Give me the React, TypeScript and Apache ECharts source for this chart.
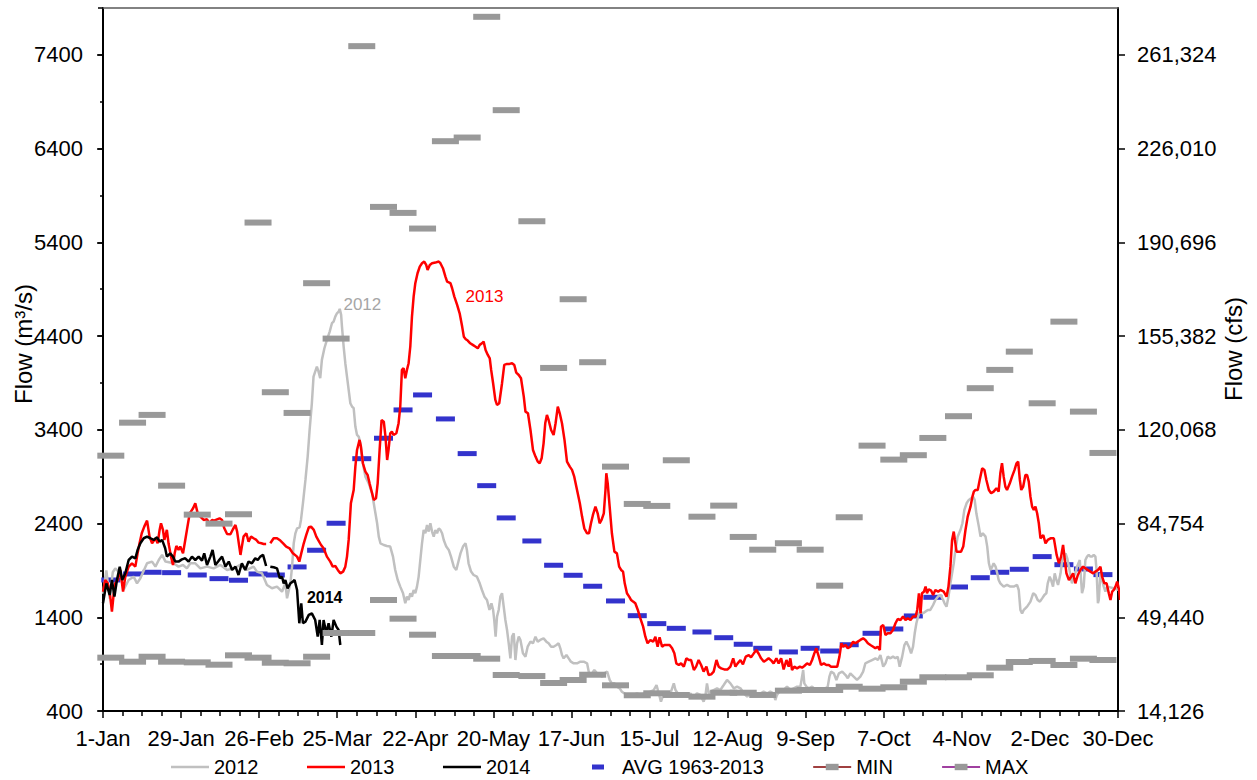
import React, { useEffect, useRef } from "react";
import * as echarts from "echarts";

const FONT = "'Liberation Sans', Arial, sans-serif";

// ---- axis tick labels ----
const X_TICK_LABELS = ["1-Jan", "29-Jan", "26-Feb", "25-Mar", "22-Apr", "20-May", "17-Jun", "15-Jul", "12-Aug", "9-Sep", "7-Oct", "4-Nov", "2-Dec", "30-Dec"];
const Y_TICKS = [400, 1400, 2400, 3400, 4400, 5400, 6400, 7400];
const RIGHT_TICK_LABELS = ["14,126", "49,440", "84,754", "120,068", "155,382", "190,696", "226,010", "261,324"];

// ---- quarter-month periods (positions of the historical statistics) ----
const MONTH_START_DAY = [0, 31, 59, 90, 120, 151, 181, 212, 243, 273, 304, 334];
const QUARTER_OFFSET_DAY = [2.8, 10.6, 17.6, 24.6];

// ---- historical statistics, m3/s (48 quarter-month values) ----
const AVG_1963_2013 = [1798, 1862, 1880, 1876, 1851, 1812, 1795, 1862, 1851, 1937, 2115, 2403, 3092, 3310, 3612, 3772, 3516, 3146, 2804, 2460, 2214, 1955, 1848, 1731, 1574, 1417, 1332, 1282, 1243, 1182, 1112, 1069, 1030, 1069, 1040, 1107, 1229, 1275, 1414, 1613, 1723, 1822, 1880, 1912, 2047, 1961, 1915, 1855];
const MIN_1963_2013 = [969, 926, 979, 926, 919, 894, 994, 969, 915, 909, 979, 1232, 1232, 1584, 1385, 1214, 987, 987, 958, 784, 773, 699, 731, 787, 674, 568, 589, 571, 553, 595, 595, 571, 617, 624, 624, 659, 638, 653, 713, 760, 760, 781, 862, 923, 934, 891, 958, 944];
const MAX_1963_2013 = [3124, 3476, 3559, 2804, 2495, 2399, 2499, 5611, 3801, 3580, 4964, 4373, 7493, 5778, 5714, 5547, 6479, 6518, 7806, 6810, 5625, 4060, 4793, 4121, 3007, 2609, 2588, 3075, 2473, 2591, 2257, 2121, 2190, 2121, 1737, 2467, 3231, 3082, 3129, 3313, 3545, 3844, 4039, 4234, 3683, 4554, 3594, 3153];

// ---- daily flows [day of year, m3/s] ----
const FLOW_2012 = [
  [0, 1650], [1.2, 1900], [2.4, 1600], [3.5, 1880], [4.4, 1922], [6.2, 1869], [7.5, 1700], [9.2, 1798], [11, 1833], [12.2, 1762], [13.4, 1816], [15.8, 1976], [17.6, 1994], [18.8, 1940], [20, 2011], [21.2, 2065], [22.4, 1994], [25.3, 1976], [27.1, 1940], [28.7, 1958], [30.1, 1922], [31.3, 1976], [33.1, 1976], [34.9, 1922], [37.3, 1940], [39.7, 1922], [42.1, 1958], [44.5, 1905], [46.9, 1922], [49.2, 1958], [51.6, 1905], [54, 1940], [55.2, 1887], [57, 1869], [58.8, 1745], [60.6, 1709], [62.4, 1727], [64.2, 1673], [65.4, 1762], [66, 1602], [67.2, 1762], [67.8, 1940], [68.4, 2189], [69, 2296], [69.6, 2349], [70.5, 2360], [71, 2438], [71.7, 2616], [72.6, 2865], [73.4, 3114], [74.1, 3399], [74.9, 3683], [75.5, 3968], [76.1, 4021], [76.7, 4074], [77.3, 4021], [77.9, 3950], [78.5, 4146], [79.4, 4270], [80.3, 4359], [81.3, 4448], [82.1, 4537], [82.7, 4555], [83.3, 4608], [83.9, 4643], [84.5, 4661], [84.9, 4690], [85.4, 4626], [85.7, 4501], [86.3, 4288], [86.9, 4110], [87.5, 3968], [88.1, 3825], [88.7, 3683], [89.3, 3648], [89.9, 3630], [90.5, 3434], [91.1, 3345], [91.7, 3327], [92.3, 3256], [93.2, 3043], [94.1, 2901], [95.3, 2829], [96.5, 2723], [97.1, 2616], [97.7, 2509], [98.3, 2403], [98.9, 2260], [99.5, 2189], [100.7, 2171], [101.8, 2161], [103, 2154], [104, 2047], [104.8, 1905], [105.7, 1798], [106.6, 1727], [107.6, 1656], [108.4, 1549], [109, 1620], [109.6, 1584], [110.2, 1656], [110.8, 1620], [111.4, 1691], [112, 1656], [112.6, 1727], [113.2, 1834], [113.8, 2011], [114.4, 2189], [115, 2331], [115.6, 2296], [116.2, 2385], [116.8, 2314], [117.4, 2403], [118, 2314], [118.6, 2260], [119.2, 2331], [119.8, 2296], [120.4, 2349], [121, 2331], [121.6, 2296], [122.2, 2225], [123.1, 2154], [124, 2118], [124.8, 2047], [125.8, 1940], [126.7, 1905], [127.6, 2011], [128.2, 2082], [129.1, 2154], [130, 2189], [130.5, 2118], [131.1, 1976], [132, 1887], [132.9, 1851], [134.1, 1833], [135.1, 1762], [135.9, 1691], [136.8, 1620], [137.7, 1584], [138.6, 1478], [139.3, 1549], [139.9, 1478], [140.3, 1371], [140.8, 1193], [141.3, 1407], [141.9, 1478], [142.5, 1620], [143.1, 1656], [143.7, 1513], [144.3, 1371], [144.9, 1264], [145.5, 1122], [146.1, 962], [146.7, 1193], [147.3, 1229], [147.9, 944], [148.5, 1122], [149.1, 1193], [149.7, 1158], [150.6, 1015], [151.5, 980], [152.3, 1086], [153.3, 1140], [154.2, 1122], [155.1, 1193], [155.9, 1140], [156.8, 1158], [158, 1175], [159, 1140], [159.8, 1122], [160.7, 1086], [161.6, 1086], [162.6, 1104], [163.4, 1122], [164, 1069], [164.6, 998], [165.2, 962], [166.2, 998], [167, 962], [167.8, 926], [168.8, 909], [170, 909], [171.2, 926], [172.4, 926], [173.6, 909], [174.2, 820], [174.8, 784], [175.4, 802], [176.2, 837], [177.2, 802], [178.1, 784], [179, 766], [179.8, 802], [180.8, 820], [181.7, 731], [182.5, 695], [183.4, 695], [184.3, 660], [185.3, 642], [186.1, 606], [186.9, 589], [187.9, 571], [189.1, 571], [190.3, 571], [191.5, 589], [192.7, 571],
  [194.5, 589], [196.3, 606], [197.5, 624], [198.5, 677], [199.3, 589], [200.1, 499], [201.1, 589], [202.3, 571], [203.5, 589], [204.7, 695], [205.3, 624], [206.1, 589], [207.1, 571], [208.3, 571], [209.5, 553], [210.7, 589], [211.8, 535], [213, 589], [214.2, 571], [215.4, 499], [216, 553], [216.6, 695], [217.2, 589], [217.8, 606], [219, 624], [220.2, 642], [221.4, 624], [222.6, 677], [223.8, 731], [225, 695], [226.2, 642], [227.4, 660], [228.6, 642], [229.8, 589], [231, 553], [232.2, 589], [233.4, 571], [234.6, 589], [235.8, 589], [236.9, 606], [238.2, 589], [239.3, 606], [240.5, 589], [241.1, 517], [241.7, 571], [242.9, 624], [244.1, 624], [245.3, 660], [246.5, 624], [247.7, 642], [248.9, 660], [250.1, 660], [251.1, 837], [251.5, 695], [252.3, 660], [253.1, 642], [254.3, 660], [255.5, 624], [256.7, 624], [257.9, 624], [259.1, 642], [259.9, 660], [260.5, 766], [261.1, 820], [262.1, 802], [263, 731], [263.9, 802], [265.1, 820], [266.3, 784], [267.1, 749], [268, 802], [269.2, 766], [270.4, 731], [271.6, 766], [272.6, 820], [273.4, 908], [274.6, 926], [275.8, 944], [277, 962], [277.9, 944], [278.8, 997], [279.8, 873], [280.6, 908], [281.4, 980], [282.4, 962], [283.3, 980], [284.2, 962], [285, 980], [285.7, 873], [286.6, 980], [287.4, 1104], [288.1, 1140], [289, 1086], [289.8, 1015], [290.5, 1086], [291.1, 1229], [291.7, 1336], [292.6, 1442], [293.1, 1460], [294.1, 1442], [294.9, 1460], [295.8, 1478], [296.7, 1478], [297.7, 1531], [298.5, 1584], [299.4, 1620], [300.3, 1638], [301.3, 1584], [301.8, 1549], [302.5, 1513], [303.2, 1620], [303.9, 1762], [304.5, 1869], [305.1, 1976], [305.7, 2118], [306.5, 2260], [307.5, 2331], [308.2, 2403], [308.9, 2545], [309.7, 2616], [310.5, 2652], [311.3, 2669], [312, 2687], [312.6, 2652], [313.2, 2509], [314.1, 2367], [314.7, 2260], [315.5, 2296], [316.5, 2260], [317.1, 2154], [317.7, 1976], [318.3, 1905], [318.9, 1940], [319.4, 1976], [320.1, 1940], [320.7, 1869], [321.2, 1798], [321.8, 1762], [323, 1727], [324.2, 1745], [325.4, 1727], [326.6, 1727], [327.8, 1745], [328.4, 1691], [329, 1478], [329.6, 1442], [330.2, 1478], [330.8, 1496], [331.4, 1513], [332.6, 1567], [333.6, 1656], [334.4, 1638], [335.2, 1584], [336, 1567], [336.8, 1602], [337.6, 1638], [338.3, 1656], [338.8, 1762], [339.5, 1833], [340, 1798], [340.7, 1727], [341.3, 1869], [341.9, 1798], [342.5, 1745], [343.4, 1869], [344, 2011], [344.6, 2047], [345.2, 2082], [345.8, 2029], [346.4, 1940], [347, 1833], [347.5, 1762], [348.1, 1833], [348.7, 1869], [349.3, 1940], [350.3, 2011], [350.8, 1780], [351.1, 1656], [351.7, 1727], [352.3, 2011], [352.9, 2047], [353.5, 2065], [354.1, 2047], [354.7, 2047], [355.3, 2065], [355.9, 2047], [356.3, 1905], [356.8, 1549], [357.1, 1584], [357.7, 1869], [358.3, 1798], [358.9, 1727], [359.5, 1673], [360.1, 1727], [362.5, 1709], [364.4, 1691],
];

const FLOW_2013 = [
  [0, 1673], [0.8, 1798], [1.7, 1762], [2.6, 1620], [3.2, 1460], [3.8, 1638], [4.4, 1762], [5.3, 1798], [6.2, 1905], [7.2, 1673], [8, 1833], [9.2, 1940], [10.4, 1976], [11.6, 1940], [12.4, 2082], [13.1, 2189], [13.9, 2296], [14.8, 2367], [15.8, 2431], [16.7, 2260], [17.6, 2189], [18.8, 2243], [19.6, 2189], [20.3, 2332], [20.8, 2403], [21.5, 2332], [22, 2225], [22.9, 2332], [23.5, 2189], [24.4, 2047], [25.1, 1958], [25.7, 2082], [26.3, 2161], [27.1, 2118], [27.7, 2154], [28.7, 2082], [29.5, 2225], [30.1, 2332], [31.1, 2509], [32.3, 2563], [33.1, 2616], [33.9, 2516], [34.9, 2474], [36.1, 2438], [37.3, 2445], [38.2, 2403], [39.1, 2438], [39.9, 2431], [40.9, 2445], [41.8, 2456], [42.7, 2438], [43.5, 2349], [44.5, 2289], [45.7, 2285], [46.6, 2339], [47.5, 2385], [48.1, 2314], [48.7, 2189], [49.3, 2065], [49.8, 2154], [50.4, 2260], [51.4, 2296], [52.2, 2207], [53.1, 2260], [54, 2243], [55, 2225], [55.8, 2196], [56.8, 2189], [57.6, 2182], [58.5, 2182], [59, null], [60, 2189], [61.2, 2243], [62.4, 2243], [63.6, 2218], [64.6, 2189], [65.7, 2154], [66.9, 2136], [68.1, 2082], [69.6, 2047], [70.4, 1994], [71.1, 2082], [72, 2189], [72.9, 2278], [73.8, 2360], [74.6, 2367], [75.6, 2332], [76.5, 2260], [77.3, 2218], [78.2, 2171], [79.1, 2136], [80.3, 2047], [81.5, 1994], [82.4, 1940], [83.3, 1947], [84.2, 1905],
  [85.1, 1869], [86.1, 1887], [86.9, 1940], [87.5, 2047], [88.1, 2225], [88.9, 2616], [89.9, 2758], [90.5, 3007], [91.1, 3185], [91.7, 3256], [92, 3292], [92.5, 3221], [93.2, 3043], [94.1, 2954], [94.9, 2918], [95.6, 2829], [96.5, 2723], [97.1, 2652], [97.9, 2669], [98.5, 2829], [99.2, 3185], [99.9, 3505], [100.7, 3487], [101.3, 3327], [101.9, 3078], [102.4, 3185], [103, 3363], [103.6, 3381], [104.2, 3345], [105.2, 3363], [106, 3470], [106.6, 3648], [107.2, 4039], [107.8, 4057], [108.4, 3950], [109, 4039], [109.6, 4110], [110.2, 4288], [110.8, 4608], [111.4, 4821], [112, 4964], [112.8, 5070], [113.6, 5141], [114.4, 5177], [115.2, 5195], [115.9, 5159], [116.4, 5106], [117.2, 5159], [118, 5177], [119.2, 5184], [120.4, 5195], [121, 5177], [121.9, 5124], [122.8, 5035], [123.4, 4981], [124.6, 4964], [125.2, 4910], [126, 4821], [127, 4732], [127.9, 4643], [128.8, 4501], [129.4, 4394], [130.1, 4366], [130.8, 4352], [131.7, 4323], [132.6, 4306], [133.5, 4288], [134.4, 4270], [135.1, 4306], [135.9, 4323], [136.5, 4341], [137.2, 4252], [138, 4199], [138.7, 4163], [139.2, 4039], [139.9, 3897], [140.7, 3719], [141.3, 3665], [142.1, 3683], [143.1, 3897], [143.9, 4092], [144.9, 4103], [145.8, 4103], [146.7, 4110], [147.5, 4092], [148.2, 4010], [149.1, 3985], [149.9, 3950], [150.9, 3754], [151.5, 3594], [152.4, 3576], [153.3, 3398], [154.2, 3185], [155.1, 3114], [155.9, 3061], [156.6, 3043], [157.3, 3096], [158, 3256], [158.6, 3470], [159.2, 3559], [159.8, 3505], [160.7, 3398], [161.6, 3345], [162.3, 3470], [163.1, 3648], [163.8, 3576], [164.6, 3470], [165.5, 3292], [166.4, 3061], [167.4, 3007], [168.2, 2972], [169, 2900], [170, 2758], [171, 2616], [171.8, 2474], [172.6, 2349], [173.6, 2296], [174.3, 2296], [175, 2403], [175.7, 2492], [176.6, 2580], [177.4, 2509], [178.1, 2403], [178.8, 2438], [179.6, 2509], [180.2, 2758], [180.5, 2936], [181, 2829], [181.7, 2580], [182.5, 2296], [183.4, 2100], [184.3, 2082], [185.1, 1940], [185.8, 1905], [186.5, 1887], [187.1, 1762], [187.9, 1656], [188.7, 1620], [189.4, 1584], [190.1, 1567], [190.9, 1549], [191.8, 1478], [192.5, 1407],
  [193.7, 1300], [194.5, 1193], [195.3, 1122], [196.3, 1158], [197.3, 1140], [198.1, 1193], [198.9, 1086], [199.6, 1186], [200.5, 1086], [201.3, 1104], [202.3, 1104], [203.2, 1104], [204.1, 1069], [204.9, 1015], [205.6, 908], [206.5, 891], [207.3, 908], [208.3, 873], [209.2, 962], [210.1, 944], [210.9, 944], [211.9, 837], [212.7, 873], [213.6, 944], [214.5, 891], [215.4, 820], [216.4, 873], [217.2, 784], [218.1, 791], [219, 820], [220, 944], [220.8, 873], [221.7, 855], [222.8, 844], [224, 844], [225, 873], [226, 962], [226.8, 873], [227.6, 908], [228.6, 944], [229.5, 898], [230.5, 980], [231.6, 997], [232.4, 973], [233.4, 1015], [234.3, 1051], [235.2, 1008], [236, 962], [237, 926], [237.9, 944], [238.7, 962], [239.7, 937], [240.5, 908], [241.5, 962], [242.3, 908], [243.2, 962], [244.1, 844], [245.1, 944], [245.9, 873], [246.5, 962], [247.1, 837], [247.9, 873], [248.9, 855], [249.9, 873], [250.7, 862], [251.5, 880], [252.5, 908], [253.5, 891], [254.3, 944], [255.1, 1015], [255.8, 1069], [256.7, 980], [257.5, 891], [258.5, 908], [259.4, 891], [260.3, 891], [261.1, 873], [262.1, 873], [263.3, 873], [264.1, 980], [264.8, 1122], [265.4, 1086], [266.3, 1104], [267.1, 1069], [268, 1086], [269, 1140], [269.8, 1122], [270.7, 1140], [271.6, 1158], [272.6, 1175], [273.4, 1158], [274.3, 1122], [275.2, 1104], [276.2, 1086], [277, 1069], [277.8, 1086], [278.6, 1051], [279, 1300], [279.8, 1318], [280.6, 1211], [281.4, 1229], [282.4, 1229], [283.3, 1264], [284.2, 1336], [285, 1382], [286, 1371], [286.9, 1407], [287.8, 1371], [288.6, 1389], [289.6, 1371], [290.5, 1407], [291.4, 1407], [292, 1478], [292.6, 1656], [293.2, 1442], [293.7, 1656], [294.4, 1673], [295, 1727], [295.5, 1656], [296.1, 1698], [297, 1684], [297.7, 1638], [298.5, 1691], [299.5, 1673], [300.3, 1691], [301.5, 1673], [302.5, 1620], [303.2, 1727], [303.9, 1940], [304.5, 2225], [305.1, 2314], [305.5, 2225], [306.1, 2100], [306.9, 2100], [307.7, 2100], [308.5, 2154], [309.3, 2331], [310.1, 2474], [311.1, 2580], [311.8, 2687], [312.3, 2740], [312.9, 2758], [313.7, 2758], [314.4, 2865], [315.3, 2989], [316.1, 2972], [316.8, 2865], [317.7, 2758], [318.5, 2723], [319.4, 2740], [320.4, 2776], [321.2, 2740], [321.8, 2936], [322.4, 3043], [323, 2900], [323.6, 2794], [324.2, 2758], [325.2, 2829], [326, 2900], [326.9, 2972], [327.6, 3043], [328.2, 3061], [328.8, 2865], [329.3, 2758], [330, 2794], [330.8, 2918], [331.4, 2918], [332, 2847], [332.6, 2687], [333.2, 2580], [333.8, 2545], [334.4, 2580], [335, 2509], [335.6, 2403], [336.2, 2242], [337.2, 2278], [338, 2189], [338.8, 2225], [339.8, 2242], [341, 2242], [342, 2065], [342.8, 1976], [343.6, 2047], [344.3, 2171], [344.8, 2047], [345.5, 1869], [346.4, 1798], [347.2, 1833], [347.9, 1869], [348.7, 1762], [349.6, 1851], [350.5, 1905], [351.5, 1940], [352.3, 1922], [353.2, 1905], [354.1, 1887], [355.1, 1869], [355.9, 1887], [356.8, 1905], [357.7, 1940], [358.3, 1833], [359.1, 1762], [359.9, 1762], [360.7, 1656], [361.3, 1584], [361.9, 1673], [362.5, 1691], [363.1, 1727], [363.7, 1780], [364.4, 1691], [364.7, 1584],
];

const FLOW_2014 = [
  [0, 1549], [1.2, 1762], [2.4, 1638], [3.2, 1798], [4.1, 1620], [5, 1798], [6, 1940], [6.9, 1798], [8, 1869], [9.2, 2011], [10.4, 2047], [11.6, 2029], [12.4, 2118], [13.4, 2189], [14.6, 2243], [15.8, 2260], [17, 2243], [18.2, 2225], [19.4, 2253], [20.3, 2207], [21.2, 2225], [22.3, 2136], [22.9, 2047], [24.1, 2082], [25.1, 2047], [25.9, 1994], [27.1, 1994], [28.3, 2018], [29.5, 2029], [30.7, 1994], [31.9, 2047], [33.1, 2011], [34.3, 2047], [35.5, 2004], [36.3, 2082], [37.3, 1958], [38.5, 2047], [39.3, 2118], [40.3, 1958], [41.5, 2004], [42.7, 2047], [43.9, 1940], [45.1, 1994], [46.3, 1905], [47.5, 1940], [48.6, 1851], [49.8, 1976], [51, 1905], [52.2, 1994], [53.4, 1976], [54.6, 2029], [55.5, 2011], [56.4, 2047], [57.4, 2065], [58.5, 1947], [59, null], [60, 1940], [61.2, 1933], [62.4, 1922], [63.4, 1816], [64.2, 1833], [64.8, 1762], [65.4, 1798], [66.2, 1709], [67.2, 1762], [68.1, 1780], [68.7, 1798], [69.6, 1691], [70.4, 1336], [71.1, 1549], [71.7, 1336], [72.6, 1353], [73.8, 1425], [74.9, 1442], [76.1, 1371], [77, 1193], [77.7, 1371], [78.5, 1104], [79.1, 1371], [80.1, 1229], [80.9, 1336], [81.9, 1193], [82.7, 1371], [83.7, 1300], [84.5, 1264], [85.1, 1104],
];

// ---- in-plot series labels [day, m3/s] ----
const LABEL_2012 = [93.0, 4741];
const LABEL_2013 = [136.8, 4821];
const LABEL_2014 = [79.5, 1611];

const LINE_ICON = "path://M0,0M38,16M0,6.75L38,6.75L38,9.25L0,9.25Z";
const BLUE_DASH_ICON = "path://M0,0M38,16M13,5.5L25,5.5L25,10.5L13,10.5Z";
const GRAY_DASH_SYMBOL = "path://M0,0M27,12M0,3L27,3L27,9L0,9Z";

function seriesLabel(coord: number[], text: string, color: string, bold = false) {
  return {
    silent: true,
    symbol: "circle",
    symbolSize: 0,
    label: {
      show: true,
      position: "inside",
      formatter: text,
      color,
      fontSize: bold ? 16 : 17,
      fontWeight: bold ? "bold" : "normal",
      fontFamily: FONT,
    },
    data: [{ coord }],
  };
}

export default function App() {
  const ref = useRef<HTMLDivElement>(null);

  useEffect(() => {
    const chart = echarts.init(ref.current!, null, { renderer: "svg" });
    const quarterDays = MONTH_START_DAY.flatMap((m) => QUARTER_OFFSET_DAY.map((o) => m + o));
    const quarterly = (vals: number[]) => vals.map((v, i) => [quarterDays[i], v]);
    const axisText = { fontSize: 22, color: "#000", fontFamily: FONT };
    const black = { color: "#000", width: 1.5 };

    chart.setOption({
      animation: false,
      backgroundColor: "#fff",
      grid: { left: 103, right: 139, top: 8, bottom: 69, containLabel: false },
      xAxis: [
        {
          type: "value", min: 0, max: 364, interval: 28, position: "bottom",
          axisLine: { show: true, onZero: false, lineStyle: { color: "#000", width: 2 } },
          axisTick: { show: true, length: 7, lineStyle: black },
          minorTick: { show: true, splitNumber: 4, length: 5, lineStyle: black },
          splitLine: { show: false },
          axisLabel: {
            ...axisText, margin: 16, showMinLabel: true, showMaxLabel: true,
            formatter: (v: number) => X_TICK_LABELS[Math.round(v / 28)] ?? "",
          },
        },
        {
          type: "value", min: 0, max: 364, position: "top",
          axisLine: { show: true, onZero: false, lineStyle: { color: "#595959", width: 1.5 } },
          axisTick: { show: false }, axisLabel: { show: false }, splitLine: { show: false },
        },
      ],
      yAxis: [
        {
          type: "value", min: 400, max: 7900, interval: 1000, position: "left",
          axisLine: { show: true, onZero: false, lineStyle: { color: "#000", width: 2 } },
          axisTick: { show: true, length: 5, lineStyle: black },
          minorTick: { show: true, splitNumber: 2, length: 3, lineStyle: black },
          splitLine: { show: false },
          axisLabel: {
            ...axisText, margin: 20, showMaxLabel: false,
            formatter: (v: number) => (Y_TICKS.indexOf(v) >= 0 ? String(v) : ""),
          },
        },
        {
          type: "value", min: 400, max: 7900, interval: 1000, position: "right",
          axisLine: { show: true, onZero: false, lineStyle: { color: "#000", width: 2 } },
          axisTick: { show: true, length: 7, customValues: Y_TICKS, lineStyle: black },
          splitLine: { show: false },
          axisLabel: {
            ...axisText, margin: 19, customValues: Y_TICKS,
            formatter: (v: number) => RIGHT_TICK_LABELS[Y_TICKS.indexOf(v)] ?? "",
          },
        },
        {
          type: "value", min: 400, max: 7900, interval: 1000, position: "right",
          axisLine: { show: false },
          axisTick: { show: true, inside: true, length: 6, customValues: Y_TICKS, lineStyle: black },
          axisLabel: { show: false }, splitLine: { show: false },
        },
      ],
      legend: {
        left: 171, top: 757, padding: 0, itemWidth: 38, itemHeight: 16, itemGap: 48.5,
        selectedMode: false,
        textStyle: { fontSize: 20, color: "#000", fontFamily: FONT },
        data: [
          { name: "2012", icon: LINE_ICON },
          { name: "2013", icon: LINE_ICON },
          { name: "2014", icon: LINE_ICON },
          { name: "AVG 1963-2013", icon: BLUE_DASH_ICON, itemStyle: { opacity: 1 } },
          { name: "MIN", lineStyle: { color: "#800000", width: 1.5, opacity: 1 } },
          { name: "MAX", lineStyle: { color: "#800080", width: 1.5, opacity: 1 } },
        ],
      },
      graphic: [
        {
          type: "text", x: 23.5, y: 344, rotation: Math.PI / 2,
          style: { text: "Flow (m³/s)", fontSize: 24, fontFamily: FONT, fill: "#000", align: "center", verticalAlign: "middle", textAlign: "center", textVerticalAlign: "middle" },
        },
        {
          type: "text", x: 1233, y: 349, rotation: Math.PI / 2,
          style: { text: "Flow (cfs)", fontSize: 24, fontFamily: FONT, fill: "#000", align: "center", verticalAlign: "middle", textAlign: "center", textVerticalAlign: "middle" },
        },
      ],
      series: [
        {
          name: "2012", type: "line", data: FLOW_2012, color: "#C0C0C0", symbol: "none",
          lineStyle: { width: 2.5, color: "#C0C0C0" }, emphasis: { disabled: true },
          markPoint: seriesLabel(LABEL_2012, "2012", "#A6A6A6"),
        },
        {
          name: "2013", type: "line", data: FLOW_2013, color: "#FF0000", symbol: "none", connectNulls: false,
          lineStyle: { width: 2.5, color: "#FF0000" }, emphasis: { disabled: true },
          markPoint: seriesLabel(LABEL_2013, "2013", "#FF0000"),
        },
        {
          name: "2014", type: "line", data: FLOW_2014, color: "#000000", symbol: "none", connectNulls: false,
          lineStyle: { width: 2.5, color: "#000000" }, emphasis: { disabled: true },
          markPoint: seriesLabel(LABEL_2014, "2014", "#000000", true),
        },
        {
          name: "AVG 1963-2013", type: "scatter", data: quarterly(AVG_1963_2013), color: "#3333CC",
          symbol: "rect", symbolSize: [19, 5], clip: false,
          itemStyle: { color: "#3333CC", opacity: 1 }, emphasis: { disabled: true },
        },
        {
          name: "MIN", type: "line", data: quarterly(MIN_1963_2013), color: "#999999",
          symbol: GRAY_DASH_SYMBOL, symbolSize: [27, 12], showSymbol: true, clip: false,
          itemStyle: { color: "#999999" },
          lineStyle: { color: "#800000", width: 1.5, opacity: 0 }, emphasis: { disabled: true },
        },
        {
          name: "MAX", type: "line", data: quarterly(MAX_1963_2013), color: "#999999",
          symbol: GRAY_DASH_SYMBOL, symbolSize: [27, 12], showSymbol: true, clip: false,
          itemStyle: { color: "#999999" },
          lineStyle: { color: "#800080", width: 1.5, opacity: 0 }, emphasis: { disabled: true },
        },
      ],
    });

    return () => chart.dispose();
  }, []);

  return (
    <div
      ref={ref}
      style={{ position: "fixed", left: 0, top: 0, width: 1257, height: 780, background: "#fff" }}
    />
  );
}
